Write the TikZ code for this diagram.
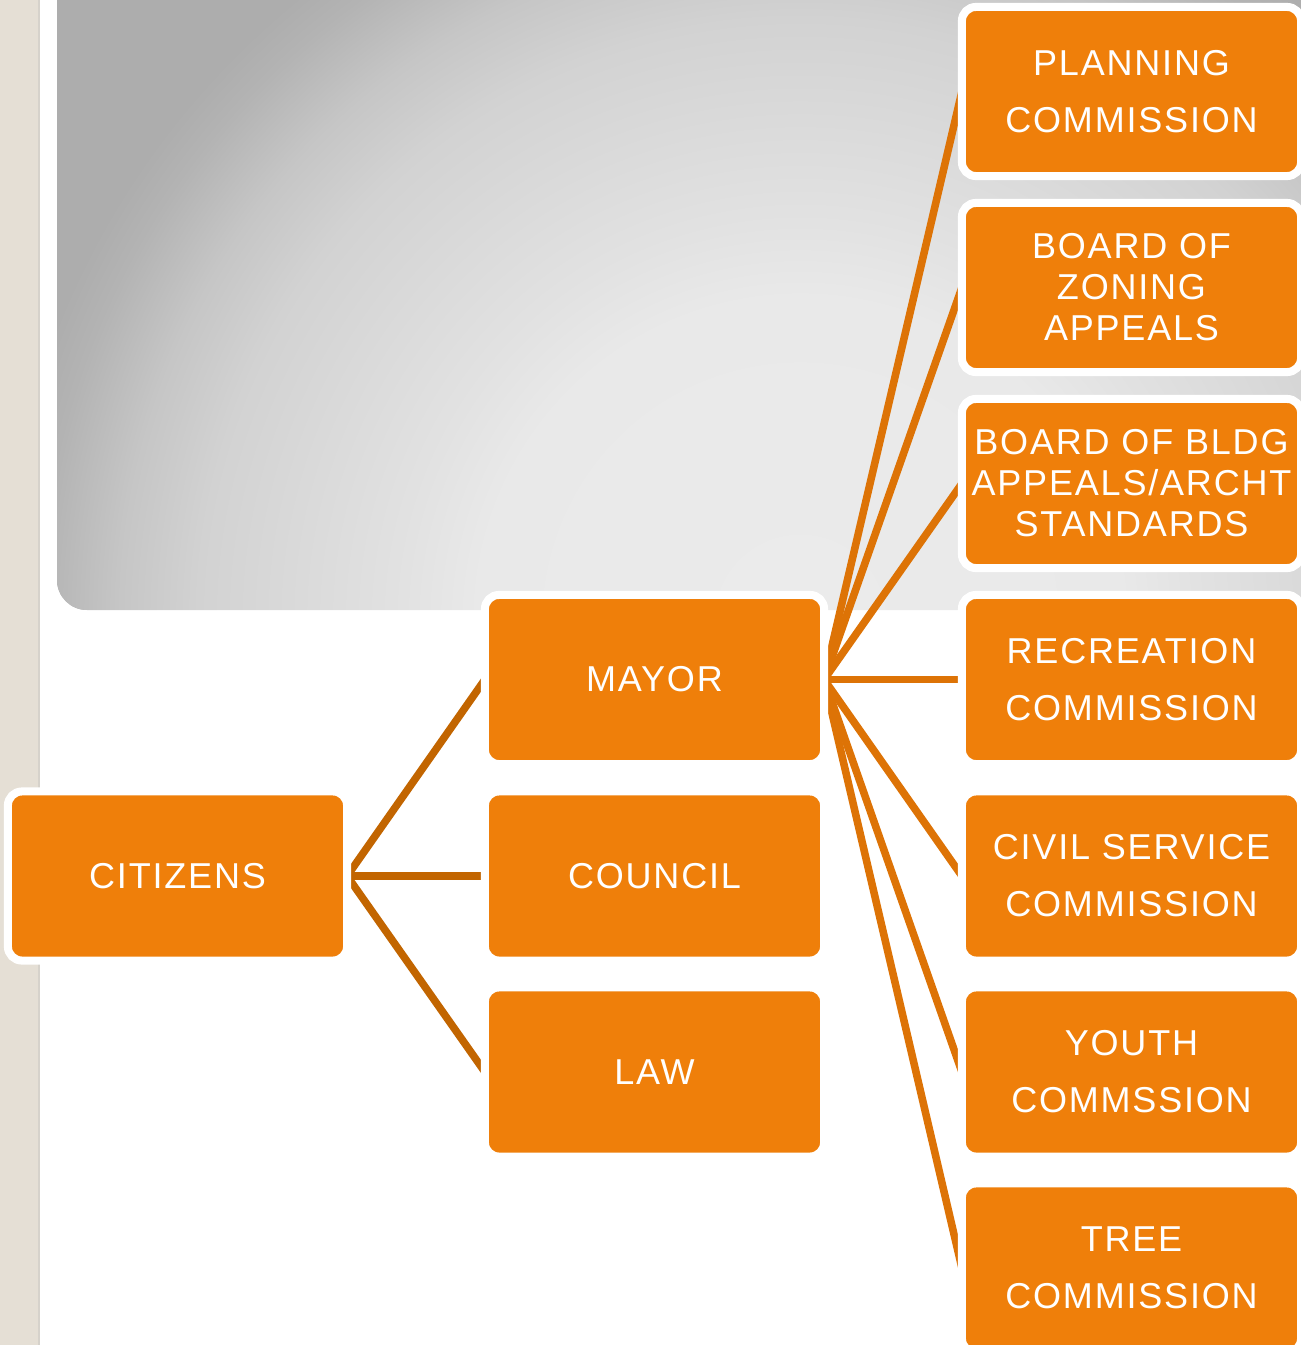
\documentclass[tikz,border=0pt]{standalone}
\usepackage{fontspec}
\newfontfamily\boxfont{Liberation Sans}[LetterSpace=5]
\usepackage{xcolor}
\usepackage{tikz}
\usetikzlibrary{backgrounds}
\definecolor{boxc}{HTML}{EF7F0A}
\definecolor{linec}{HTML}{DD7306}
\definecolor{darkc}{HTML}{C26500}
\definecolor{stripc}{HTML}{E5DFD5}
\definecolor{edgec}{HTML}{D6D2CB}
\definecolor{panelin}{HTML}{EBEBEB}
\definecolor{panelout}{HTML}{ADADAD}
\pgfdeclareradialshading{panelshade}{\pgfpointorigin}{%
  color(0bp)=(panelin); color(10bp)=(panelin!97!panelout); color(12.5bp)=(panelin!85!panelout);
  color(18.75bp)=(panelin!60!panelout); color(21.25bp)=(panelin!40!panelout);
  color(23.75bp)=(panelin!10!panelout); color(25bp)=(panelout); color(50bp)=(panelout)}
\pgfdeclarelayer{back}
\pgfdeclarelayer{links}
\pgfsetlayers{back,links,main}
\tikzset{
  box/.style={rectangle,draw=white,line width=2.28pt,fill=boxc,rounded corners=0.14cm,
    minimum width=3.39cm,minimum height=1.69cm,inner sep=0pt,outer sep=0pt,
    align=center,text=white,font=\boxfont\fontsize{10.24}{11.67}\selectfont},
  ln/.style={line width=2.15pt,linec}
}

\begin{document}
\begin{tikzpicture}[x=0.01cm,y=-0.01cm]
\useasboundingbox (0,0) rectangle (1301,1345);
% side strip and shaded panel
\begin{pgfonlayer}{back}
\fill[stripc] (0,0) rectangle (38,1345);
\draw[edgec,line width=0.5pt] (38.8,0) -- (38.8,1345);
\begin{scope}
\clip[rounded corners=0.3cm] (57,-50) -- (57,610) -- (1350,610) -- (1350,-50) -- cycle;
\fill[panelout] (0,-50) rectangle (1350,610);
\shade[shading=panelshade] (800,620) circle (8cm);
\end{scope}
\end{pgfonlayer}

\node[box] (citizens) at (177.5,876) {CITIZENS};
\node[box] (mayor) at (654.5,679.5) {MAYOR};
\node[box] (council) at (654.5,876) {COUNCIL};
\node[box] (law) at (654.5,1072) {LAW};

\node[box] (planning) at (1131.5,91.5) {PLANNING\\[4.55pt]COMMISSION};
\node[box] (zoning) at (1131.5,287.5) {BOARD OF\\ZONING\\APPEALS};
\node[box] (bldg) at (1131.5,483.5) {BOARD OF BLDG\\APPEALS/ARCHT\\STANDARDS};
\node[box] (recreation) at (1131.5,679.5) {RECREATION\\[4.55pt]COMMISSION};
\node[box] (civil) at (1131.5,876) {CIVIL SERVICE\\[4.55pt]COMMISSION};
\node[box] (youth) at (1131.5,1072) {YOUTH\\[4.55pt]COMMSSION};
\node[box] (tree) at (1131.5,1268) {TREE\\[4.55pt]COMMISSION};

% links
\begin{pgfonlayer}{links}
\foreach \t in {mayor,council,law}{\draw[ln,darkc] (citizens.east) -- (\t.west);}
\foreach \t in {planning,zoning,bldg,recreation,civil,youth,tree}{\draw[ln] (mayor.east) -- (\t.west);}
\end{pgfonlayer}
\end{tikzpicture}
\end{document}
